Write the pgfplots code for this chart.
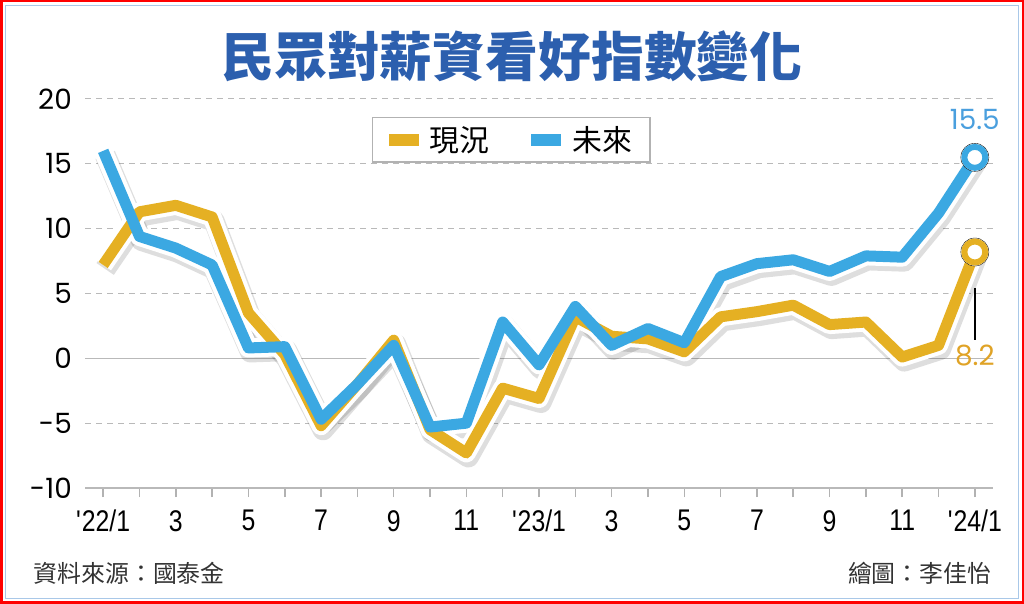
\documentclass[border=0pt]{standalone}
\usepackage{pgfplots}
\pgfplotsset{compat=1.18}
\usepackage{pgfplotstable}
\usepackage{fontspec}
\setmainfont{Liberation Sans}
\newfontfamily\cjk{Noto Sans CJK TC}
\newfontfamily\numfont{Poppins}
\newfontfamily\narrowfont[FakeStretch=0.83]{Liberation Sans}
\definecolor{gold}{HTML}{E5B023}
\definecolor{sky}{HTML}{3BA8E2}
\definecolor{titleblue}{HTML}{2C5FAE}
\definecolor{goldtxt}{HTML}{E0A326}
\definecolor{skytxt}{HTML}{4A9FDE}
\definecolor{framebl}{HTML}{A9C8E8}

\pgfplotstableread{
x now fut
0 7.2 16.0
1 11.3 9.4
2 11.8 8.5
3 10.9 7.2
4 3.5 0.8
5 0.3 0.9
6 -5.2 -4.7
7 -2.0 -2.0
8 1.4 1.0
9 -5.5 -5.3
10 -7.3 -5.0
11 -2.3 2.8
12 -3.1 -0.5
13 3.2 4.0
14 1.7 1.0
15 1.5 2.3
16 0.5 1.2
17 3.2 6.3
18 3.6 7.3
19 4.1 7.6
20 2.6 6.7
21 2.8 7.9
22 0.1 7.8
23 1.0 11.2
24 8.2 15.5
}\data

\begin{document}
\begin{tikzpicture}
\useasboundingbox (0bp,0bp) rectangle (1024bp,604bp);
\fill[white] (0bp,0bp) rectangle (1024bp,604bp);
\draw[red, line width=2.5bp] (1.25bp,1.25bp) rectangle (1022.75bp,602.75bp);
\draw[framebl, line width=1.2bp] (5.5bp,5.5bp) rectangle (1018.5bp,598.5bp);
\node[font=\cjk\bfseries\fontsize{53}{53}\selectfont, text=titleblue] at (512bp,548bp) {民眾對薪資看好指數變化};
\node[anchor=west, font=\cjk\fontsize{24}{24}\selectfont, text=black!80] at (30bp,31bp) {資料來源：國泰金};
\node[anchor=east, font=\cjk\fontsize{24}{24}\selectfont, text=black!80] at (995bp,31bp) {繪圖：李佳怡};

\begin{axis}[
  at={(85bp,116bp)}, anchor=south west, scale only axis,
  width=908bp, height=389bp,
  xmin=-0.5, xmax=24.5, ymin=-10, ymax=20,
  clip=false,
  axis line style={draw=none},
  ytick={-10,-5,...,20},
  ymajorgrids,
  grid style={gray!55, dash pattern=on 6bp off 5bp, line width=1bp},
  extra y ticks={-10,0},
  extra y tick labels={},
  extra y tick style={grid style={solid, gray!55, line width=1.6bp}, major tick length=0pt},
  xtick={0,...,24},
  xticklabels={\textquotesingle22/1,,3,,5,,7,,9,,11,,\textquotesingle23/1,,3,,5,,7,,9,,11,,\textquotesingle24/1},
  xtick pos=lower, ytick pos=left,
  tick align=outside,
  major tick length=9bp,
  xtick style={draw=gray!60, line width=1.5bp},
  ytick style={draw=none},
  /pgf/number format/assume math mode=true,
  yticklabel style={font=\numfont\fontsize{28}{28}\selectfont, inner sep=0pt, xshift=-4bp},
  xticklabel style={font=\narrowfont\fontsize{30}{30}\selectfont, inner sep=0pt, yshift=-13bp},
  legend style={at={(0.316,0.954)}, anchor=north west, legend columns=2,
    draw=gray!60, line width=1.5bp, fill=white,
    font=\cjk\fontsize{30}{30}\selectfont,
    inner xsep=16bp, inner ysep=7bp,
    /tikz/every odd column/.append style={column sep=9bp},
    /tikz/every even column/.append style={column sep=40bp}},
  legend cell align=left,
  legend image code/.code={\fill[#1, draw=none] (0bp,-6bp) rectangle (30bp,6bp);},
]
% shadows
\addplot[forget plot, black, opacity=0.13, line width=21bp, line join=round, xshift=2bp, yshift=-4bp] table[x=x,y=now]{\data};
\addplot[forget plot, black, opacity=0.13, line width=21bp, line join=round, xshift=2bp, yshift=-4bp] table[x=x,y=fut]{\data};
% white outlines
\addplot[forget plot, white, line width=19bp, line join=round] table[x=x,y=now]{\data};
\addplot[forget plot, white, line width=19bp, line join=round] table[x=x,y=fut]{\data};
% colored lines
\addplot[gold, line width=11bp, line join=round] table[x=x,y=now]{\data};
\addplot[sky, line width=11bp, line join=round] table[x=x,y=fut]{\data};
\legend{現況,未來}
% end markers
\addplot[forget plot, only marks, mark=*, mark size=14bp, mark options={fill=white, draw=none}] coordinates {(24,8.2)};
\addplot[forget plot, only marks, mark=*, mark size=10.5bp, mark options={fill=white, draw=gold, line width=6bp}] coordinates {(24,8.2)};
\addplot[forget plot, only marks, mark=*, mark size=14bp, mark options={fill=white, draw=none}] coordinates {(24,15.5)};
\addplot[forget plot, only marks, mark=*, mark size=10.5bp, mark options={fill=white, draw=sky, line width=6bp}] coordinates {(24,15.5)};
\node[font=\numfont\fontsize{28}{28}\selectfont, text=skytxt] at (axis cs:24,15.5) [yshift=38bp] {15.5};
\node[font=\numfont\fontsize{28}{28}\selectfont, text=goldtxt] at (axis cs:24,0.2) {8.2};
\draw[black, line width=1.5bp] (axis cs:24,5.4) -- (axis cs:24,1.4);
\end{axis}
\end{tikzpicture}
\end{document}
